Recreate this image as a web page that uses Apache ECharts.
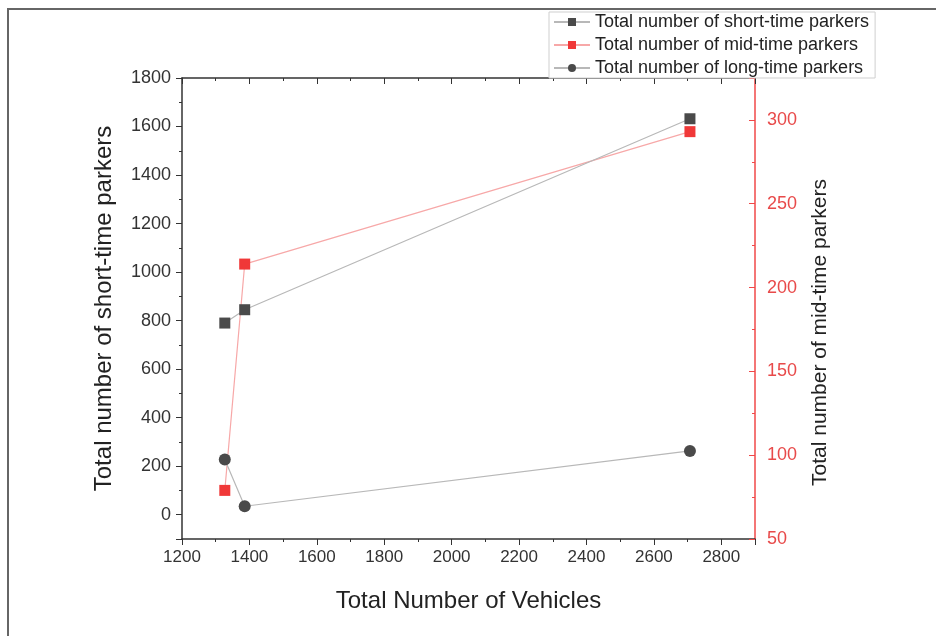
<!DOCTYPE html>
<html>
<head>
<meta charset="utf-8">
<script src="https://cdn.jsdelivr.net/npm/echarts@6/dist/echarts.min.js"></script>
<style>html,body{margin:0;padding:0;background:#fff}#c{width:936px;height:636px}</style>
</head>
<body>
<div id="c"></div>
<script>
const vehicles = [1327, 1386, 2707];
const shortParkers = [790, 845, 1632];
const midParkers = [79, 214, 293];
const longParkers = [228, 35, 263];
const seriesNames = ['Total number of short-time parkers', 'Total number of mid-time parkers', 'Total number of long-time parkers'];
const xTitle = 'Total Number of Vehicles';
const yLeftTitle = 'Total number of short-time parkers';
const yRightTitle = 'Total number of mid-time parkers';

const pairs = (xs, ys) => xs.map((x, i) => [x, ys[i]]);
const font = 'Liberation Sans, Arial, sans-serif';
const chart = echarts.init(document.getElementById('c'), null, {renderer: 'canvas'});
chart.setOption({
  animation: false,
  backgroundColor: '#fff',
  textStyle: {fontFamily: font},
  graphic: [{
    type: 'polyline', silent: true,
    shape: {points: [[8, 636], [8, 9], [936, 9]]},
    style: {stroke: '#666', lineWidth: 2, fill: null}
  }],
  grid: {left: 182, right: 181, top: 78, bottom: 97},
  legend: {
    orient: 'vertical', left: 549, top: 12,
    padding: [1, 6, 1, 4], itemGap: 5,
    itemWidth: 36, itemHeight: 10,
    borderColor: '#cfcfcf', borderWidth: 1, backgroundColor: '#fff',
    textStyle: {fontFamily: font, fontSize: 18, color: '#222'},
    data: seriesNames
  },
  xAxis: [{
    type: 'value', min: 1200, max: 2900, interval: 200,
    position: 'bottom',
    name: xTitle, nameLocation: 'middle', nameGap: 50,
    nameTextStyle: {fontSize: 24, color: '#222', fontFamily: font},
    axisLine: {onZero: false, lineStyle: {color: '#333', width: 1.5}},
    axisTick: {length: 6, lineStyle: {color: '#333'}},
    minorTick: {show: true, splitNumber: 2, length: 3, lineStyle: {color: '#333'}},
    axisLabel: {fontSize: 17, color: '#333', fontFamily: font, margin: 10,
      formatter: v => (v > 2800 ? '' : String(v))},
    splitLine: {show: false}
  }, {
    type: 'value', min: 1200, max: 2900, interval: 200,
    position: 'top',
    axisLine: {onZero: false, lineStyle: {color: '#333', width: 1.5}},
    axisTick: {inside: true, length: 6, lineStyle: {color: '#333'}},
    minorTick: {show: true, splitNumber: 2, length: 3, lineStyle: {color: '#333'}},
    axisLabel: {show: false},
    splitLine: {show: false}
  }],
  yAxis: [{
    type: 'value', min: -100, max: 1800, splitNumber: 10,
    position: 'left',
    name: yLeftTitle, nameLocation: 'middle', nameGap: 66, nameRotate: 90,
    nameTextStyle: {fontSize: 24, color: '#222', fontFamily: font},
    axisLine: {show: true, onZero: false, lineStyle: {color: '#333', width: 1.5}},
    axisTick: {show: true, length: 6, lineStyle: {color: '#333'}},
    minorTick: {show: true, splitNumber: 2, length: 3, lineStyle: {color: '#333'}},
    axisLabel: {fontSize: 18, color: '#333', fontFamily: font, margin: 11,
      formatter: v => (v < 0 ? '' : String(v))},
    splitLine: {show: false}
  }, {
    type: 'value', min: 50, max: 325, interval: 50,
    position: 'right',
    name: yRightTitle, nameLocation: 'middle', nameGap: 55, nameRotate: 90,
    nameTextStyle: {fontSize: 21, color: '#222', fontFamily: font, padding: [0, 48, 0, 0]},
    axisLine: {show: true, onZero: false, lineStyle: {color: '#f04848', width: 1.5}},
    axisTick: {show: true, inside: true, length: 6, lineStyle: {color: '#f04848'}},
    minorTick: {show: true, splitNumber: 2, length: 3, lineStyle: {color: '#f04848'}},
    axisLabel: {fontSize: 18, color: '#e84a4a', fontFamily: font, margin: 12,
      formatter: v => (v > 300 ? '' : String(v))},
    splitLine: {show: false}
  }],
  series: [{
    name: seriesNames[0], type: 'line', xAxisIndex: 0, yAxisIndex: 0,
    data: pairs(vehicles, shortParkers),
    symbol: 'rect', symbolSize: 11,
    itemStyle: {color: '#4a4a4a'},
    lineStyle: {color: '#b8b8b8', width: 1.2}, z: 3
  }, {
    name: seriesNames[1], type: 'line', xAxisIndex: 0, yAxisIndex: 1,
    data: pairs(vehicles, midParkers),
    symbol: 'rect', symbolSize: 11,
    itemStyle: {color: '#f03838'},
    lineStyle: {color: '#f7a8a8', width: 1.2}, z: 2
  }, {
    name: seriesNames[2], type: 'line', xAxisIndex: 0, yAxisIndex: 0,
    data: pairs(vehicles, longParkers),
    symbol: 'circle', symbolSize: 12,
    itemStyle: {color: '#4a4a4a'},
    lineStyle: {color: '#b8b8b8', width: 1.2}, z: 3
  }]
});
</script>
</body>
</html>
